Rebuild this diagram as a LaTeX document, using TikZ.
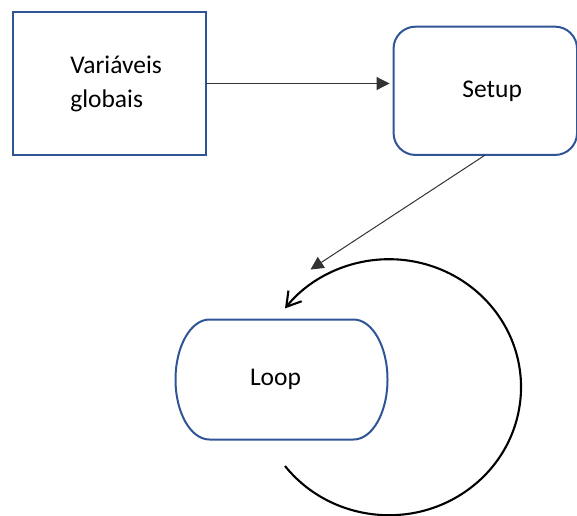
\documentclass[tikz,border=0pt]{standalone}
\usepackage{fontspec}
\setmainfont{Carlito}
\usetikzlibrary{arrows.meta,calc}
\definecolor{boxblue}{HTML}{2F5597}

\tikzset{
  blockbox/.style={rectangle, draw=boxblue, line width=2pt, fill=white,
                   outer sep=0pt, align=left,
                   font=\fontsize{25.5}{34}\selectfont},
  flowline/.style={draw=black!80, line width=1pt,
                   -{Triangle[length=13pt,width=13pt]}},
  loopline/.style={draw=black, line width=2.1pt,
                   -{Straight Barb[length=14pt,width=17pt]}}
}

\begin{document}
\begin{tikzpicture}[x=1pt,y=1pt]
\useasboundingbox (0,0) rectangle (577,-515);

\node[blockbox, minimum width=193.5pt, minimum height=143.3pt,
      text width=78pt]
  (vars) at (109.3,-83.5) {Variáveis\\globais};

\node[blockbox, rounded corners=22pt, minimum width=183.5pt,
      minimum height=128.3pt, text width=46pt]
  (setup) at (485.3,-90.8) {Setup};

% loop block: terminator outline with elliptic ends
\node[blockbox, draw=none, minimum width=212pt, minimum height=120pt,
      text width=63pt]
  (loop) at (281.5,-379.5) {Loop};
\draw[boxblue, line width=2pt]
  ([xshift=34pt]loop.north west) -- ([xshift=-34pt]loop.north east)
  arc[start angle=90, end angle=-90, x radius=34pt, y radius=60pt]
  -- ([xshift=34pt]loop.south west)
  arc[start angle=270, end angle=90, x radius=34pt, y radius=60pt] -- cycle;

\coordinate (setupend) at (310.5,-269.5);
\coordinate (loopstart) at (285,-466);

\draw[flowline, shorten >=4pt] (vars.east) -- (vars.east -| setup.west);
\draw[flowline] (setup.south) -- (setupend);
% repeat arrow around the loop block
\draw[loopline] (loopstart)
  arc[start angle=-142, end angle=142, x radius=132pt, y radius=128pt];
\end{tikzpicture}
\end{document}
